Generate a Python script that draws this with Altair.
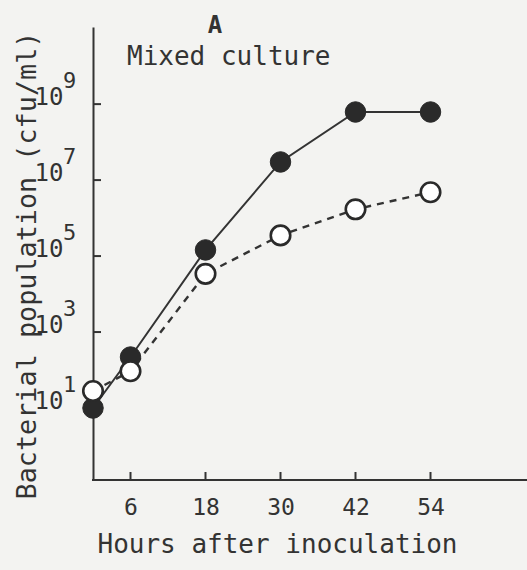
import altair as alt
import pandas as pd

# ---- data ----
hours = [0, 6, 18, 30, 42, 54]
filled_pop = [1.0e1, 2.2e2, 1.45e5, 3.0e7, 6.2e8, 6.2e8]
open_pop = [2.8e1, 9.3e1, 3.4e4, 3.5e5, 1.7e6, 4.8e6]
x_ticks = [6, 18, 30, 42, 54]
y_ticks = [1e1, 1e3, 1e5, 1e7, 1e9]
y_exponents = ["1", "3", "5", "7", "9"]

FONT = "DejaVu Sans Mono"
INK = "#333333"
BG = "#f3f3f1"

filled_df = pd.DataFrame({"hours": hours, "pop": filled_pop})
open_df = pd.DataFrame({"hours": hours, "pop": open_pop})
xtick_df = pd.DataFrame({"hours": x_ticks})
ytick_df = pd.DataFrame({"pop": y_ticks, "exp": y_exponents})

xscale = alt.Scale(domain=[0, 69.44], nice=False, zero=False)
yscale = alt.Scale(type="log", domain=[10 ** -0.895, 10 ** 11.03], nice=False)

xaxis = alt.Axis(
    values=x_ticks, ticks=False, tickSize=0, grid=False,
    labelFont=FONT, labelFontSize=23, labelColor=INK, labelPadding=16,
    labelFlush=False, labelOverlap=False,
    domain=False,
    title="Hours after inoculation", titleFont=FONT, titleFontSize=26,
    titleFontWeight="normal", titleColor=INK,
    titleX=184, titleY=72, titleAlign="center", titleBaseline="alphabetic",
)
yaxis = alt.Axis(
    values=y_ticks, labelExpr="'10'", ticks=False, tickSize=0, grid=False,
    labelFont=FONT, labelFontSize=24, labelColor=INK, labelPadding=30,
    labelBaseline="middle", labelOffset=-7, labelFlush=False, labelOverlap=False,
    domainColor=INK, domainWidth=2,
    title="Bacterial population (cfu/ml)", titleFont=FONT, titleFontSize=26.8,
    titleFontWeight="normal", titleColor=INK,
    titleX=-66, titleY=238, titleAngle=270, titleAlign="center",
    titleBaseline="middle",
)

X = alt.X("hours:Q", scale=xscale, axis=xaxis)
Y = alt.Y("pop:Q", scale=yscale, axis=yaxis)

filled_line = alt.Chart(filled_df).mark_line(color=INK, strokeWidth=2).encode(x=X, y=Y)
open_line = alt.Chart(open_df).mark_line(
    color=INK, strokeWidth=2.4, strokeDash=[7, 6]
).encode(x=X, y=Y)

filled_pts = alt.Chart(filled_df).mark_point(
    shape="circle", filled=True, fill="#2a2a2a", stroke="#2a2a2a",
    strokeWidth=1, opacity=1, size=420
).encode(x=X, y=Y)
open_pts = alt.Chart(open_df).mark_point(
    shape="circle", filled=False, fill="white", fillOpacity=1,
    stroke="#2a2a2a", strokeWidth=2.6, opacity=1, size=380
).encode(x=X, y=Y)

# x-axis line running out to the right edge, as in the reference
xaxis_line = alt.Chart(xtick_df).mark_rule(color=INK, strokeWidth=2).encode(
    x=alt.value(-1), x2=alt.value(460), y=alt.value(453)
)
xtick_rules = alt.Chart(xtick_df).mark_rule(color=INK, strokeWidth=2).encode(
    x=alt.X("hours:Q", scale=xscale, axis=xaxis),
    y=alt.value(453), y2=alt.value(445),
)
ytick_rules = alt.Chart(ytick_df).mark_rule(color=INK, strokeWidth=2).encode(
    y=alt.Y("pop:Q", scale=yscale, axis=yaxis),
    x=alt.value(0), x2=alt.value(8),
)
exp_text = alt.Chart(ytick_df).mark_text(
    font=FONT, fontSize=22, color=INK, align="left", baseline="middle", dy=-23
).encode(
    y=alt.Y("pop:Q", scale=yscale, axis=yaxis),
    x=alt.value(-30),
    text="exp:N",
)

panel_df = pd.DataFrame({"t": ["A"]})
label_df = pd.DataFrame({"t": ["Mixed culture"]})
panel_text = alt.Chart(panel_df).mark_text(
    font=FONT, fontSize=24, fontWeight="bold", color=INK,
    align="center", baseline="alphabetic"
).encode(x=alt.value(122), y=alt.value(6), text="t:N")
culture_text = alt.Chart(label_df).mark_text(
    font=FONT, fontSize=26, color=INK, align="left", baseline="alphabetic"
).encode(x=alt.value(34), y=alt.value(38), text="t:N")

chart = alt.layer(
    open_line, filled_line, xaxis_line, xtick_rules, ytick_rules, exp_text,
    filled_pts, open_pts, panel_text, culture_text,
).properties(
    width=434, height=453,
    autosize=alt.AutoSizeParams(type="none"),
    padding={"left": 93, "top": 27, "right": 0, "bottom": 90},
    background=BG,
).configure_view(stroke=None)

chart.save("out.html", embed_options={"renderer": "svg", "actions": False})
